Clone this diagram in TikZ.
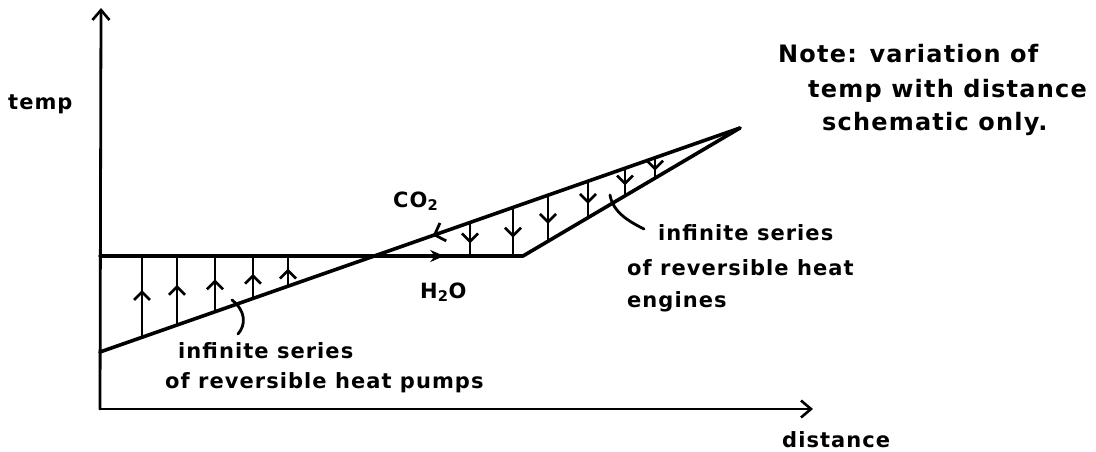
\documentclass[tikz,border=0pt]{standalone}
\usepackage{fontspec}
\newfontfamily\hand{DejaVu Sans}[LetterSpace=5]
\usetikzlibrary{arrows.meta,decorations.markings}
\tikzset{
  hand/.style={font=\hand\bfseries\fontsize{21}{26}\selectfont, inner sep=0pt},
  note/.style={hand, font=\hand\bfseries\fontsize{24}{28}\selectfont},
  thick line/.style={line width=3.6pt, line cap=round, line join=round},
  axis/.style={line width=2.8pt, line cap=round, -{Straight Barb[length=10pt,width=17pt,line width=2.6pt]}},
  leader/.style={line width=2.8pt, line cap=round},
  upmark/.style={line width=2.6pt, postaction={decorate},
    decoration={markings, mark=at position #1 with {\arrow{Straight Barb[length=8pt,width=16pt,line width=2.6pt]}}}},
}
\begin{document}
\begin{tikzpicture}[x=1pt,y=-1pt]
\useasboundingbox (0,0) rectangle (1096,452);
% axes
\coordinate (O) at (100,409);
\coordinate (Ytop) at (101,8);
\coordinate (Xend) at (813,409);
\draw[axis] (O) -- (Ytop);
\draw[axis] (O) -- (Xend);
% main lines
\coordinate (cA) at (100,352);
\coordinate (apex) at (740,128);
\coordinate (hA) at (100,256);
\coordinate (hB) at (523,256);
\draw[thick line, postaction={decorate},
  decoration={markings, mark=at position 0.52 with {\arrowreversed{Straight Barb[length=9pt,width=19pt,line width=2.8pt]}}}]
  (cA) -- (apex);
\draw[thick line, postaction={decorate},
  decoration={markings, mark=at position 0.51 with {\arrow{Stealth[length=14pt,width=12pt]}}}]
  (hA) -- (hB) -- (apex);
% heat pumps (upward)
\foreach \i/\x/\yb in {1/142/337.3, 2/177/325.0, 3/215/311.8, 4/253/298.5, 5/288/286.2}{
  \coordinate (pb\i) at (\x,\yb);
  \coordinate (pt\i) at (\x,256);
  \draw[upmark=0.58] (pb\i) -- (pt\i);
}
% heat engines (downward)
\foreach \i/\x/\yt/\yb in {1/470/222.5/256, 2/513/207.5/256, 3/548/195.2/241.3, 4/588/181.2/217.7, 5/625/168.3/195.9, 6/655/157.8/178.3}{
  \coordinate (et\i) at (\x,\yt);
  \coordinate (eb\i) at (\x,\yb);
  \draw[upmark=0.62] (et\i) -- (eb\i);
}
% leaders
\coordinate (l1a) at (610,195);
\coordinate (l1b) at (644,229);
\draw[leader] (l1a) .. controls (613,212) and (628,221) .. (l1b);
\coordinate (l2a) at (232,300);
\coordinate (l2b) at (238,334);
\draw[leader] (l2a) .. controls (246,311) and (246,325) .. (l2b);
% labels
\node[hand, anchor=base west] (temp) at (8,110) {temp};
\node[hand, anchor=base west] (dist) at (782,447) {distance};
\node[hand, anchor=base west] (co2) at (393,207) {CO\textsubscript{2}};
\node[hand, anchor=base west] (h2o) at (420,298) {H\textsubscript{2}O};
\node[note, anchor=base west] (n1) at (778,63) {Note: variation of};
\node[note, anchor=base west] (n2) at (808,98) {temp with distance};
\node[note, anchor=base west] (n3) at (822,130) {schematic only.};
\node[hand, anchor=base west] (e1) at (658,240) {infinite series};
\node[hand, anchor=base west] (e2) at (627,275) {of reversible heat};
\node[hand, anchor=base west] (e3) at (627,307) {engines};
\node[hand, anchor=base west] (p1) at (178,358) {infinite series};
\node[hand, anchor=base west] (p2) at (165,388) {of reversible heat pumps};
\end{tikzpicture}
\end{document}
